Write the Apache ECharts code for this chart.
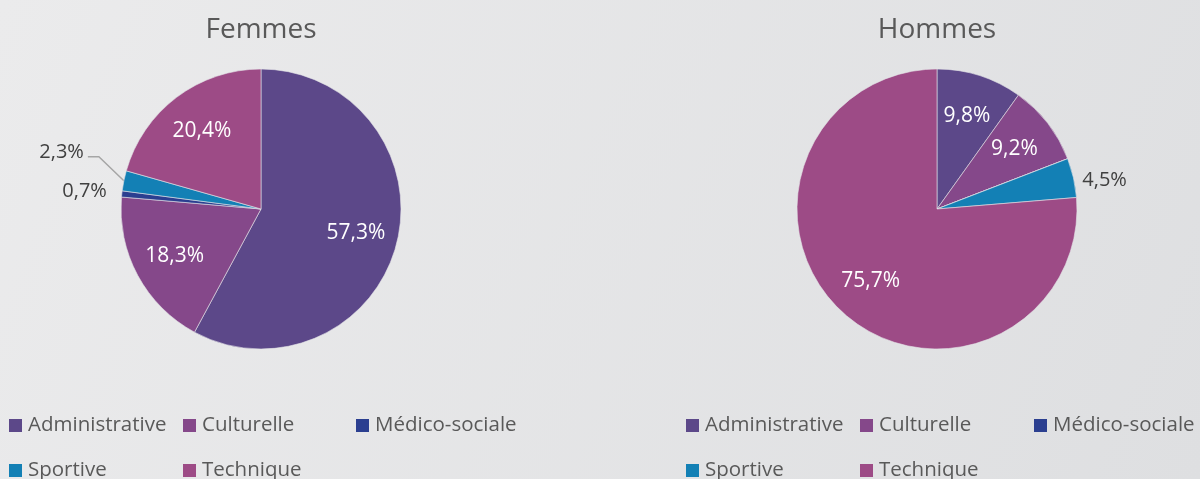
<!DOCTYPE html>
<html>
<head>
<meta charset="utf-8">
<script src="https://cdn.jsdelivr.net/npm/echarts@6/dist/echarts.min.js"></script>
<style>
  html, body { margin: 0; padding: 0; }
  #chart { width: 1200px; height: 479px; }
</style>
</head>
<body>
<div id="chart"></div>
<script>
// données
var categories = ['Administrative', 'Culturelle', 'Médico-sociale', 'Sportive', 'Technique'];
var femmes = [57.3, 18.3, 0.7, 2.3, 20.4];
var hommes = [9.8, 9.2, 0, 4.5, 75.7];
var titres = ['Femmes', 'Hommes'];

var couleurs = ['#5c4889', '#85488a', '#2b3f90', '#1380b5', '#9d4b86'];
var gris = '#595959';
var fontFamily = '"Open Sans", "Noto Sans", sans-serif';

function fmt(v) {
  return v.toFixed(1).replace('.', ',') + '%';
}

// grands secteurs : étiquette à l'intérieur, petits : à l'extérieur
function pieData(values, inside) {
  return values.map(function (v, i) {
    var small = v < 5;
    var item = { name: categories[i], value: v };
    if (inside) {
      item.label = { show: !small };
    } else {
      item.label = { show: small && v > 0 };
      item.labelLine = { show: small && i === 3 && values === femmes };
    }
    return item;
  });
}

var centres = [[261, 209], [937, 209]];
var series = [];

[femmes, hommes].forEach(function (vals, k) {
  series.push({
    type: 'pie',
    name: titres[k],
    center: centres[k],
    radius: [0, 140],
    startAngle: 90,
    avoidLabelOverlap: false,
    data: pieData(vals, false),
    itemStyle: { borderColor: '#e4e4e8', borderWidth: 0.6 },
    label: {
      position: 'outside',
      color: '#404040',
      fontSize: 20,
      fontFamily: fontFamily,
      formatter: function (p) { return fmt(p.value); }
    },
    labelLine: { length: 6, length2: 6, lineStyle: { color: '#a6a6a6', width: 1.5 } },
    labelLayout: function (p) {
      if (k === 0 && p.dataIndex === 3) {
        // étiquette 2,3 % remontée, ligne de rappel coudée
        var a = p.labelLinePoints[0];
        var b = [a[0] - 25, a[1] - 24];
        var c = [b[0] - 11, b[1]];
        return {
          x: c[0] - 4, y: c[1] - 4, align: 'right', verticalAlign: 'middle',
          labelLinePoints: [a, b, c]
        };
      }
      if (k === 0 && p.dataIndex === 2) return { dx: 2, dy: -2 };
      if (k === 1 && p.dataIndex === 3) return { dx: -8, dy: 4 };
      return {};
    },
    emphasis: { disabled: true }
  });
});

[femmes, hommes].forEach(function (vals, k) {
  series.push({
    type: 'pie',
    name: titres[k] + ' étiquettes',
    center: centres[k],
    radius: [50, 140],
    startAngle: 90,
    silent: true,
    avoidLabelOverlap: false,
    data: pieData(vals, true),
    itemStyle: { color: 'rgba(0,0,0,0)' },
    label: {
      position: 'inside',
      color: '#ffffff',
      fontSize: 21,
      fontFamily: fontFamily,
      formatter: function (p) { return fmt(p.value); }
    },
    labelLine: { show: false },
    emphasis: { disabled: true }
  });
});

// légende en grille, une légende par entrée
var colonnes = [[9, 183, 356], [686, 860, 1034]];
var lignes = [415, 460];
var legends = [];
[0, 1].forEach(function (k) {
  categories.forEach(function (c, i) {
    legends.push({
      data: [c],
      left: colonnes[k][i % 3],
      top: lignes[Math.floor(i / 3)],
      padding: 0,
      icon: 'rect',
      itemWidth: 13,
      itemHeight: 13,
      itemGap: 0,
      itemStyle: { borderWidth: 0 },
      selectedMode: false,
      textStyle: { color: gris, fontSize: 20.5, fontFamily: fontFamily, padding: [0, 0, 0, 1] }
    });
  });
});

var chart = echarts.init(document.getElementById('chart'));
chart.setOption({
  backgroundColor: {
    type: 'linear', x: 0, y: 0, x2: 1, y2: 1,
    colorStops: [{ offset: 0, color: '#ebebec' }, { offset: 1, color: '#dedfe1' }]
  },
  color: couleurs,
  animation: false,
  title: titres.map(function (t, k) {
    return {
      text: t,
      left: centres[k][0] - 5,
      top: 11,
      textAlign: 'center',
      textStyle: { color: gris, fontSize: 28, fontWeight: 'normal', fontFamily: fontFamily }
    };
  }),
  legend: legends,
  series: series
});
</script>
</body>
</html>
